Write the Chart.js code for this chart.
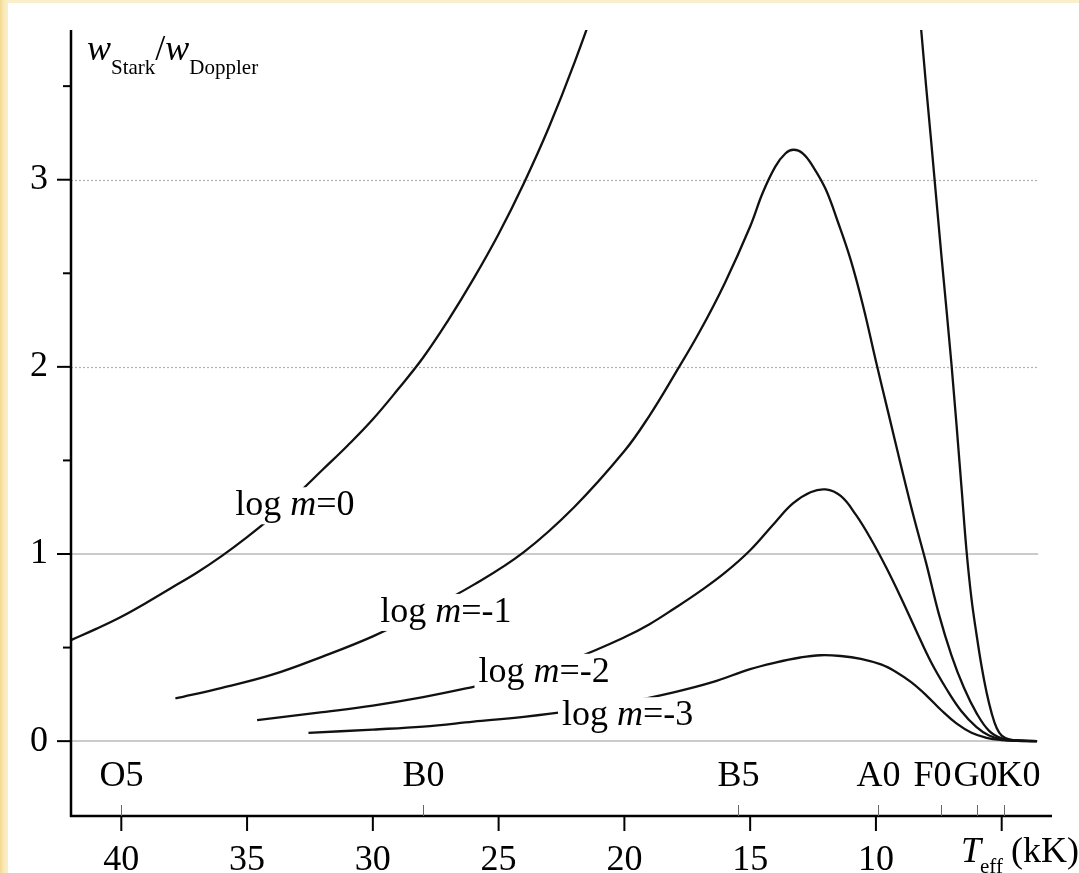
<!DOCTYPE html>
<html>
<head>
<meta charset="utf-8">
<script src="https://cdn.jsdelivr.net/npm/chart.js@4.4.0/dist/chart.umd.min.js"></script>
<style>
  html, body { margin: 0; padding: 0; }
  body {
    width: 1079px; height: 873px; overflow: hidden; position: relative;
    background: linear-gradient(90deg, #f3d98e 0px, #f9e9bb 4px, #faefcc 8px);
    background-color: #faefcc;
  }
  #panel { position: absolute; left: 8px; top: 3px; width: 1071px; height: 870px; background: #fff; }
</style>
</head>
<body>
<div id="panel"><canvas id="chart" width="1071" height="870"></canvas></div>
<script>
// log m values of the four curves
const logM = ['0', '-1', '-2', '-3'];

// log m = 0 (leaves the top of the plot between ~21.5 and ~8.2 kK)
const tM0 = [42, 41, 40, 39, 38, 37, 36, 35, 34, 33, 32, 31, 30, 29, 28, 27, 26, 25, 24, 23, 22, 21, 20, 18, 16, 14, 12, 10, 9, 8.5, 8.2, 7.8, 7.4, 7.0, 6.6, 6.4, 6.2, 6.0, 5.8, 5.6, 5.4, 5.2, 5.0, 4.7, 4.2, 3.6];
const wM0 = [0.54, 0.60, 0.665, 0.74, 0.82, 0.90, 0.99, 1.09, 1.20, 1.32, 1.45, 1.58, 1.72, 1.88, 2.05, 2.25, 2.47, 2.71, 2.98, 3.28, 3.62, 4.0, 4.45, 5.4, 6.3, 6.9, 6.9, 6.0, 5.0, 4.35, 3.8, 3.2, 2.6, 2.02, 1.36, 1.02, 0.76, 0.57, 0.40, 0.26, 0.15, 0.07, 0.03, 0.01, 0.003, 0];

// log m = -1
const tM1 = [37.85, 36, 34, 32, 30, 28, 26, 24, 22, 20, 19, 18, 17, 16, 15, 14.5, 14, 13.6, 13.28, 12.9, 12.5, 12.0, 11.5, 11.0, 10.5, 10.0, 9.5, 9.0, 8.5, 8.0, 7.5, 7.0, 6.5, 6.0, 5.5, 5.0, 4.5, 3.6];
const wM1 = [0.228, 0.285, 0.355, 0.452, 0.56, 0.69, 0.835, 1.01, 1.25, 1.55, 1.74, 1.96, 2.19, 2.45, 2.75, 2.93, 3.07, 3.14, 3.16, 3.14, 3.07, 2.95, 2.77, 2.57, 2.32, 2.03, 1.75, 1.47, 1.2, 0.95, 0.68, 0.46, 0.285, 0.15, 0.055, 0.015, 0.004, 0];

// log m = -2
const tM2 = [34.6, 32, 30, 28, 26, 24, 22, 20, 19, 18, 17, 16, 15, 14, 13.3, 12.6, 12.0, 11.4, 10.8, 10.2, 9.6, 9.0, 8.4, 7.8, 7.2, 6.6, 6.0, 5.5, 5.0, 4.4, 3.6];
const wM2 = [0.112, 0.155, 0.19, 0.235, 0.29, 0.35, 0.44, 0.555, 0.625, 0.71, 0.80, 0.90, 1.02, 1.17, 1.27, 1.33, 1.345, 1.31, 1.21, 1.08, 0.93, 0.765, 0.59, 0.42, 0.28, 0.16, 0.075, 0.03, 0.01, 0.002, 0];

// log m = -3
const tM3 = [32.56, 30, 28, 26, 24, 22, 20, 18, 16.5, 15, 14, 13, 12.2, 11.4, 10.6, 9.8, 9.2, 8.6, 8.0, 7.4, 6.8, 6.2, 5.6, 5.0, 4.3, 3.6];
const wM3 = [0.044, 0.062, 0.078, 0.104, 0.13, 0.163, 0.205, 0.262, 0.315, 0.385, 0.42, 0.447, 0.459, 0.455, 0.44, 0.41, 0.37, 0.315, 0.245, 0.165, 0.095, 0.045, 0.018, 0.006, 0.001, 0];

// axes
const xTicks = [40, 35, 30, 25, 20, 15, 10, 5];
const xTickLabels = [40, 35, 30, 25, 20, 15, 10];
const yTicks = [0, 1, 2, 3];
const yMinorTicks = [0.5, 1.5, 2.5, 3.5];
const ySolidGrid = [0, 1];
const yDottedGrid = [2, 3];

// spectral classes on the temperature axis
const specNames = ['O5', 'B0', 'B5', 'A0', 'F0', 'G0', 'K0'];
const specTemps = [40, 28, 15.5, 9.9, 7.4, 6.0, 4.9];

// ---- layout / style (not data) ----
const FONT = "'Liberation Serif', 'Times New Roman', serif";
const labelAnchors = [[35.47, 1.207], [29.71, 0.637], [25.80, 0.317], [22.48, 0.085]];
const specNudge = { F0: -9, G0: -2, K0: 14 };
const gridEndT = 3.55;

const curveT = [tM0, tM1, tM2, tM3];
const curveW = [wM0, wM1, wM2, wM3];

function font(size, italic) {
  return (italic ? 'italic ' : '') + size + 'px ' + FONT;
}

// draws text made of pieces with different fonts/offsets, returns the width
function drawRich(ctx, parts, x, y, measureOnly) {
  let cx = x;
  parts.forEach(p => {
    ctx.font = font(p.size, p.italic);
    if (!measureOnly) ctx.fillText(p.t, cx, y + (p.dy || 0));
    cx += ctx.measureText(p.t).width + (p.kern || 0);
  });
  return cx - x;
}

const axesPlugin = {
  id: 'axesPlugin',
  beforeDatasetsDraw(chart) {
    const { ctx, chartArea: a, scales: { x, y } } = chart;
    const xEnd = x.getPixelForValue(gridEndT);
    ctx.save();
    // grid lines
    ctx.strokeStyle = '#cbcbcb';
    ctx.lineWidth = 2;
    ySolidGrid.forEach(v => {
      const py = Math.round(y.getPixelForValue(v));
      ctx.beginPath(); ctx.moveTo(a.left, py); ctx.lineTo(xEnd, py); ctx.stroke();
    });
    ctx.strokeStyle = '#b0b0b0';
    ctx.lineWidth = 1.2;
    ctx.setLineDash([2, 2]);
    yDottedGrid.forEach(v => {
      const py = Math.round(y.getPixelForValue(v)) + 0.5;
      ctx.beginPath(); ctx.moveTo(a.left, py); ctx.lineTo(xEnd, py); ctx.stroke();
    });
    ctx.restore();
  },
  afterDatasetsDraw(chart) {
    const { ctx, chartArea: a, scales: { x, y } } = chart;
    ctx.save();
    ctx.strokeStyle = '#000';
    ctx.lineWidth = 2.5;
    // y axis line
    ctx.beginPath(); ctx.moveTo(a.left, a.top); ctx.lineTo(a.left, a.bottom + 1); ctx.stroke();
    // x axis line
    ctx.beginPath(); ctx.moveTo(a.left - 1, a.bottom); ctx.lineTo(a.right, a.bottom); ctx.stroke();
    // y ticks (outward)
    ctx.lineWidth = 2;
    yTicks.forEach(v => {
      const py = y.getPixelForValue(v);
      ctx.beginPath(); ctx.moveTo(a.left - 14, py); ctx.lineTo(a.left, py); ctx.stroke();
    });
    yMinorTicks.forEach(v => {
      const py = y.getPixelForValue(v);
      ctx.beginPath(); ctx.moveTo(a.left - 8, py); ctx.lineTo(a.left, py); ctx.stroke();
    });
    // x ticks (down)
    xTicks.forEach(v => {
      const px = x.getPixelForValue(v);
      ctx.beginPath(); ctx.moveTo(px, a.bottom); ctx.lineTo(px, a.bottom + 15); ctx.stroke();
    });
    // spectral class ticks (up) and names
    ctx.strokeStyle = '#666';
    ctx.lineWidth = 1;
    ctx.fillStyle = '#000';
    ctx.font = font(36, false);
    ctx.textAlign = 'center';
    ctx.textBaseline = 'alphabetic';
    specTemps.forEach((t, i) => {
      const px = Math.round(x.getPixelForValue(t)) + 0.5;
      ctx.beginPath(); ctx.moveTo(px, a.bottom - 11); ctx.lineTo(px, a.bottom); ctx.stroke();
      ctx.fillText(specNames[i], px + (specNudge[specNames[i]] || 0), a.bottom - 30);
    });
    ctx.restore();
  }
};

const labelsPlugin = {
  id: 'labelsPlugin',
  afterDatasetsDraw(chart) {
    const { ctx, chartArea: a, scales: { x, y } } = chart;
    ctx.save();
    ctx.textAlign = 'left';
    ctx.textBaseline = 'alphabetic';
    // curve labels with a white box that interrupts the curve
    logM.forEach((m, i) => {
      const parts = [
        { t: 'log ', size: 36 },
        { t: 'm', size: 36, italic: true },
        { t: '=' + m, size: 36 }
      ];
      const px = x.getPixelForValue(labelAnchors[i][0]);
      const py = y.getPixelForValue(labelAnchors[i][1]);
      const w = drawRich(ctx, parts, px, py, true);
      ctx.fillStyle = '#fff';
      ctx.fillRect(px - 4, py - 28, w + 8, 37);
      ctx.fillStyle = '#000';
      drawRich(ctx, parts, px, py);
    });
    // y axis title
    ctx.fillStyle = '#000';
    drawRich(ctx, [
      { t: 'w', size: 36, italic: true },
      { t: 'Stark', size: 21, dy: 14 },
      { t: '/', size: 36 },
      { t: 'w', size: 36, italic: true },
      { t: 'Doppler', size: 21, dy: 14 }
    ], a.left + 16, a.top + 30);
    // x axis title
    drawRich(ctx, [
      { t: 'T', size: 36, italic: true, kern: -1 },
      { t: 'eff', size: 21, dy: 11, kern: 8 },
      { t: '(kK)', size: 36 }
    ], a.right - 91, a.bottom + 46);
    ctx.restore();
  }
};

const ctx = document.getElementById('chart').getContext('2d');
new Chart(ctx, {
  type: 'line',
  data: {
    datasets: logM.map((m, i) => ({
      label: 'log m=' + m,
      data: curveT[i].map((t, j) => ({ x: t, y: curveW[i][j] })),
      borderColor: '#111',
      borderWidth: 2.3,
      pointRadius: 0,
      fill: false,
      tension: 0.4
    }))
  },
  options: {
    responsive: false,
    animation: false,
    layout: { padding: { top: 27, right: 27, left: 0, bottom: 0 } },
    plugins: { legend: { display: false }, tooltip: { enabled: false } },
    scales: {
      x: {
        type: 'linear',
        reverse: true,
        min: 3,
        max: 42,
        afterBuildTicks: s => { s.ticks = xTickLabels.map(v => ({ value: v })); },
        afterFit: s => { s.height = 57; s.paddingLeft = 0; s.paddingRight = 0; },
        grid: { display: false },
        border: { display: false },
        ticks: {
          font: { family: FONT, size: 36 },
          color: '#000',
          padding: 15,
          maxRotation: 0,
          autoSkip: false
        }
      },
      y: {
        type: 'linear',
        min: -0.4,
        max: 3.8,
        afterBuildTicks: s => { s.ticks = yTicks.map(v => ({ value: v })); },
        afterFit: s => { s.width = 63; s.paddingTop = 0; s.paddingBottom = 0; },
        grid: { display: false },
        border: { display: false },
        ticks: {
          font: { family: FONT, size: 36 },
          color: '#000',
          padding: 15
        }
      }
    }
  },
  plugins: [axesPlugin, labelsPlugin]
});
</script>
</body>
</html>
